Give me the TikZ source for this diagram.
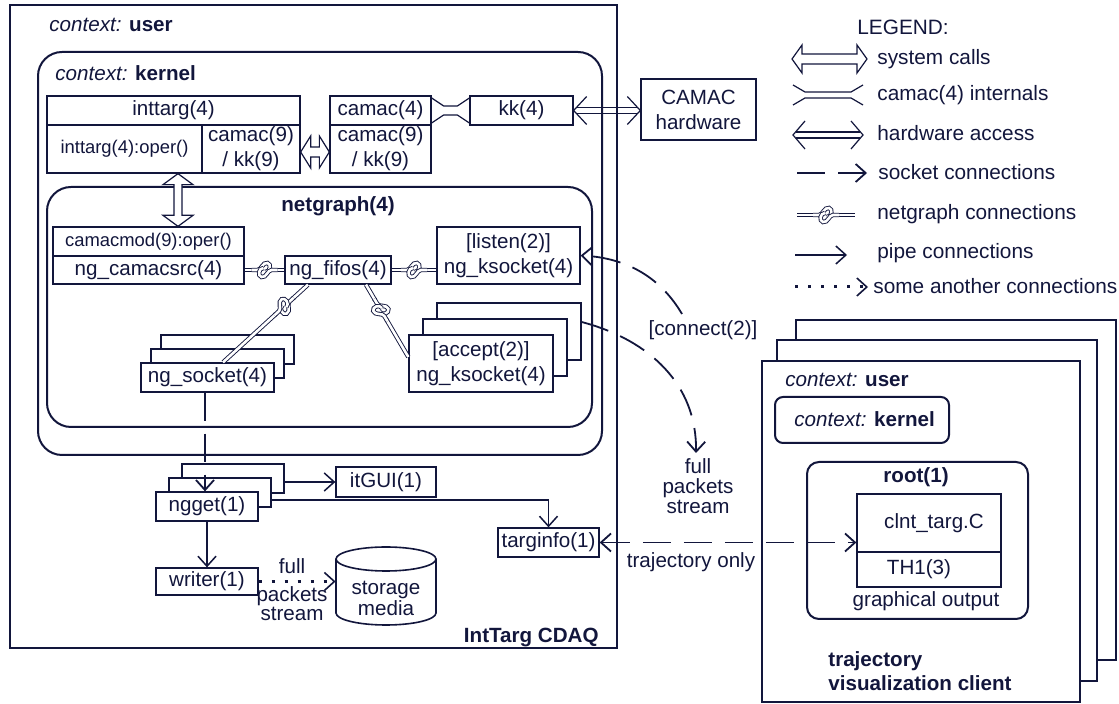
\documentclass[tikz,border=0pt]{standalone}
\usepackage{fontspec}
\setmainfont{Liberation Sans}
\usetikzlibrary{arrows.meta,fit,calc}
\definecolor{ink}{RGB}{18,22,60}
\newcommand\fnt{\fontsize{10.3}{12.5}\selectfont}
\newcommand\lfnt{\fontsize{10.4}{12.5}\selectfont}
\newcommand\knotAB[3]{\path let \p1=($(#2)-(#1)$), \n1={atan2(\y1,\x1)} in ($(#1)!#3!(#2)$) pic[rotate=\n1]{knot};}
\newcommand\bx[5][]{\node[sbox,fit={(#3) (#4)}] (#2) {};\node[align=center,#1] (#2-t) at (#2.center) {#5};}
\begin{document}
\begin{tikzpicture}[x=0.5pt,y=-0.5pt,
 >={Straight Barb[length=5pt,width=9pt]},
 every node/.style={text=ink, font=\fnt, inner sep=0pt},
 bigbox/.style={draw=ink, line width=1pt, fill=white},
 sbox/.style={draw=ink, line width=0.65pt, fill=white, inner sep=0pt},
 pipe/.style={draw=ink, line width=0.75pt, ->},
 sock/.style={draw=ink, line width=0.9pt, dash pattern=on 14pt off 6.5pt, ->},
 dots/.style={draw=ink, line width=1.5pt, dash pattern=on 1.5pt off 5pt, -{Straight Barb[length=5pt,width=9pt,line width=0.8pt]}},
 ngl/.style={draw=ink, line width=0.45pt, double=white, double distance=1.3pt},
 hollow/.style={draw=ink, line width=0.6pt, fill=white, line join=miter},
 thin/.style={draw=ink, line width=0.6pt},
 knot/.pic={
   \fill[white] (-11,-4) rectangle (11,4);
   \draw[ngl] (-13,0) -- (-7,0) .. controls (-3,0) and (-2,-8) .. (3,-7) .. controls (7,-6) and (6,2) .. (1,2);
   \draw[ngl] (13,0) -- (7,0) .. controls (3,0) and (2,8) .. (-3,7) .. controls (-7,6) and (-6,-2) .. (-1,-2);
 },
]
\useasboundingbox (0,0) rectangle (1119,704);

% ---------- IntTarg CDAQ ----------
\node[bigbox, fit={(10,5) (617,648)}] (cdaq) {};
\node[anchor=west] (ctxu) at (49,25) {\textit{context:} \textbf{user}};
\node[bigbox, rounded corners=12pt, fit={(38,52) (602,455)}] (kern) {};
\node[anchor=west] (ctxk) at (55,73) {\textit{context:} \textbf{kernel}};

\bx{itT}{47,96}{300,125}{inttarg(4)}
\bx[font=\fontsize{9.2}{11}\selectfont]{itO}{47,125}{202,173}{inttarg(4):oper()}
\bx{itC}{202,125}{300,173}{camac(9)\\ / kk(9)}
\bx{cmT}{330,96}{431,125}{camac(4)}
\bx{cmB}{330,125}{431,173}{camac(9)\\ / kk(9)}
\bx{kk}{470,96}{573,125}{kk(4)}
\bx{hw}{641,79}{756,140}{CAMAC\\hardware}

% camac(4) internals
\draw[thin] ($(cmT.east)+(0,-12.5)$) -- ($(cmT.east)+(12,-4.5)$) -- ($(kk.west)+(-12,-4.5)$) -- ($(kk.west)+(0,-12.5)$);
\draw[thin] ($(cmT.east)+(0,12.5)$) -- ($(cmT.east)+(12,4.5)$) -- ($(kk.west)+(-12,4.5)$) -- ($(kk.west)+(0,12.5)$);

% hardware access kk <-> CAMAC
\coordinate (hwA) at (kk.east);
\coordinate (hwB) at (hw.west |- kk.east);
\draw[thin] ($(hwA)+(13,-14)$) -- (hwA) -- ($(hwA)+(13,14)$);
\draw[thin] ($(hwB)+(-13,-14)$) -- (hwB) -- ($(hwB)+(-13,14)$);
\draw[thin] ($(hwA)+(2.8,-3)$) -- ($(hwB)+(-2.8,-3)$);
\draw[thin] ($(hwA)+(2.8,3)$) -- ($(hwB)+(-2.8,3)$);

% system calls inttarg <-> camac
\coordinate (scA) at ($(itC.east)+(0,3)$);
\coordinate (scB) at ($(cmB.west)+(0,3)$);
\draw[hollow] (scA) -- ++(10,-16) -- ++(0,11) -- ($(scB)+(-10,-5)$) -- ++(0,-11) -- (scB) -- ++(-10,16) -- ++(0,-11) -- ($(scA)+(10,5)$) -- ++(0,11) -- cycle;

% ---------- netgraph ----------
\node[bigbox, rounded corners=12pt, fit={(47,187) (592,427)}] (ng) {};
\node[font=\fnt\bfseries] (ngl) at (338,206) {netgraph(4)};
\bx[font=\fontsize{9.2}{11}\selectfont]{cmm}{53,227}{244,256}{camacmod(9):oper()}
\bx{src}{53,256}{244,284}{ng\_camacsrc(4)}
\bx{fifo}{285,256}{391,284}{ng\_fifos(4)}
\bx{lis}{437,227}{580,284}{[listen(2)]\\ng\_ksocket(4)}
\node[sbox, fit={(437,303) (581,360)}] (acc3) {};
\node[sbox, fit={(423,319) (567,376)}] (acc2) {};
\bx{acc}{409,335}{553,392}{[accept(2)]\\ng\_ksocket(4)}
\node[sbox, fit={(161,335) (294,364)}] (sk3) {};
\node[sbox, fit={(151,349) (284,378)}] (sk2) {};
\bx{sk}{141,363}{274,392}{ng\_socket(4)}

% system call inttarg -> camacmod
\coordinate (vaT) at ($(itO.south)+(53.5,0)$);
\coordinate (vaB) at ($(cmm.north)+(29.5,0)$);
\draw[hollow] (vaT) -- ++(15,11) -- ++(-11,0) -- ($(vaB)+(4,-11)$) -- ++(11,0) -- (vaB) -- ++(-15,-11) -- ++(11,0) -- ($(vaT)+(-4,11)$) -- ++(-11,0) -- cycle;

% netgraph connections
\coordinate (n1a) at (src.east);
\coordinate (n1b) at (fifo.west);
\coordinate (n2a) at (fifo.east);
\coordinate (n2b) at (lis.west |- fifo.east);
\coordinate (n3a) at ($(fifo.south)+(-30,0)$);
\coordinate (n3b) at ($(sk.north)+(15.5,0)$);
\coordinate (n4a) at ($(fifo.south)+(28,0)$);
\coordinate (n4b) at ($(acc.west)+(0,-6.5)$);
\draw[ngl] (n1a) -- (n1b);
\draw[ngl] (n2a) -- (n2b);
\draw[ngl] (n3a) -- (n3b);
\draw[ngl] (n4a) -- (n4b);
\knotAB{n1a}{n1b}{0.5}
\knotAB{n2a}{n2b}{0.5}
\knotAB{n3a}{n3b}{0.28}
\knotAB{n4a}{n4b}{0.35}

% ---------- user space processes ----------
\node[sbox, fit={(182,464) (284,493)}] (ng3) {};
\node[sbox, fit={(169,478) (271,507)}] (ng2) {};
\bx{ngget}{156,492}{258,521}{ngget(1)}
\bx{gui}{336,467}{436,497}{itGUI(1)}
\bx{tinfo}{498,528}{599,557}{targinfo(1)}
\bx{writer}{156,568}{258,595}{writer(1)}
\node[fit={(336,547) (436,625)}] (store) {};
\draw[ink, line width=0.8pt, fill=white] (336,559) -- (336,613) arc[start angle=180, end angle=0, x radius=50, y radius=12] -- (436,559) arc[start angle=0, end angle=-180, x radius=50, y radius=12] -- cycle;
\draw[ink, line width=0.8pt] (336,559) arc[start angle=180, end angle=0, x radius=50, y radius=12];
\node[align=center, font=\fontsize{10.3}{10.5}\selectfont] (stt) at (386,598) {storage\\media};

\coordinate (skd) at ($(sk.south)+(-2.5,0)$);
\draw[sock] (skd) -- (skd |- ngget.north);
\draw[pipe] (ng3.east |- gui.west) -- (gui.west);
\draw[pipe] ($(ng2.east)+(0,7.5)$) -| (tinfo.north);
\draw[pipe] (ngget.south) -- (writer.north);
\draw[dots] (writer.east) -- (store.west |- writer.east);
\node (fl1) at (292,566) {full};
\node[align=center, font=\fontsize{10.3}{9.5}\selectfont] (fl2) at (292,604) {packets\\stream};
\node[anchor=east, font=\fnt\bfseries] (cdaqt) at (599,637) {IntTarg CDAQ};

% ---------- client ----------
\node[bigbox, fit={(796,320) (1116,660)}] (cl3) {};
\node[bigbox, fit={(777,340) (1097,681)}] (cl2) {};
\node[bigbox, fit={(762,361) (1080,702)}] (cl) {};
\node[anchor=west] (cctxu) at (785,380) {\textit{context:} \textbf{user}};
\node[draw=ink, line width=1pt, rounded corners=4pt, fit={(775,397) (949,443)}] (ck) {};
\node[anchor=west] (cctxk) at (794,419) {\textit{context:} \textbf{kernel}};
\node[bigbox, rounded corners=6pt, fit={(807,462) (1028,619)}] (root) {};
\node[font=\fnt\bfseries] (rootl) at (916,477) {root(1)};
\node[sbox, fit={(857,494) (1001,552)}] (clnt) {};
\node (clntl) at (934,523) {clnt\_targ.C};
\node[sbox, fit={(857,552) (1001,587)}] (th1) {};
\node (th1l) at (919,569) {TH1(3)};
\node (gout) at (926,601) {graphical output};
\node[anchor=west, align=left, font=\fontsize{10.3}{12}\selectfont\bfseries] (cltl) at (828,671) {trajectory\\visualization client};

% ---------- socket connections between programs ----------
\draw[sock, <->] (tinfo.east) -- (clnt.west |- tinfo.east);
\node (trj) at (691,562) {trajectory only};
\node (conn) at (703,330) {[connect(2)]};
\coordinate (c1s) at (682,314);
\draw[sock] (c1s) .. controls (662,280) and (630,258) .. (lis.east);
\node[anchor=north, align=center, font=\fontsize{10.3}{10}\selectfont] (fps) at (698,458) {full\\packets\\stream};
\coordinate (c2s) at ($(acc3.east)+(0,-9.5)$);
\draw[sock] (c2s) .. controls (650,340) and (697,385) .. ($(fps.north)+(-2,-5)$);

% ---------- legend ----------
\node[anchor=west, font=\lfnt] (lg) at (857,27) {LEGEND:};
\node[anchor=west, font=\lfnt] (lg1) at (877,59) {system calls};
\node[anchor=west, font=\lfnt] (lg2) at (877,95) {camac(4) internals};
\node[anchor=west, font=\lfnt] (lg3) at (877,133) {hardware access};
\node[anchor=west, font=\lfnt] (lg4) at (878,172) {socket connections};
\node[anchor=west, font=\lfnt] (lg5) at (877,214) {netgraph connections};
\node[anchor=west, font=\lfnt] (lg6) at (877,253) {pipe connections};
\node[anchor=west, font=\lfnt] (lg7) at (873,286) {some another connections};

\coordinate (l1a) at (792,59); \coordinate (l1b) at (867,59);
\draw[hollow] (l1a) -- ++(10,-14) -- ++(0,9) -- ($(l1b)+(-10,-5)$) -- ++(0,-9) -- (l1b) -- ++(-10,14) -- ++(0,-9) -- ($(l1a)+(10,5)$) -- ++(0,9) -- cycle;

\draw[thin] (793,85) -- (805,92) -- (851,92) -- (863,85);
\draw[thin] (793,105) -- (805,98) -- (851,98) -- (863,105);

\coordinate (l3a) at (793,135); \coordinate (l3b) at (863,135);
\draw[thin] ($(l3a)+(12,-14)$) -- (l3a) -- ($(l3a)+(12,14)$);
\draw[thin] ($(l3b)+(-12,-14)$) -- (l3b) -- ($(l3b)+(-12,14)$);
\draw[thin] ($(l3a)+(2.6,-3)$) -- ($(l3b)+(-2.6,-3)$);
\draw[thin] ($(l3a)+(2.6,3)$) -- ($(l3b)+(-2.6,3)$);

\coordinate (l4a) at (797,173); \coordinate (l4b) at (867,173);
\draw[sock] (l4a) -- (l4b);

\coordinate (l5a) at (797,215); \coordinate (l5b) at (855,215);
\draw[ngl] (l5a) -- (l5b);
\knotAB{l5a}{l5b}{0.5}

\coordinate (l6a) at (795,255); \coordinate (l6b) at (847,255);
\draw[pipe] (l6a) -- (l6b);

\coordinate (l7a) at (795,287); \coordinate (l7b) at (868,287);
\draw[dots] (l7a) -- (l7b);
\end{tikzpicture}
\end{document}
